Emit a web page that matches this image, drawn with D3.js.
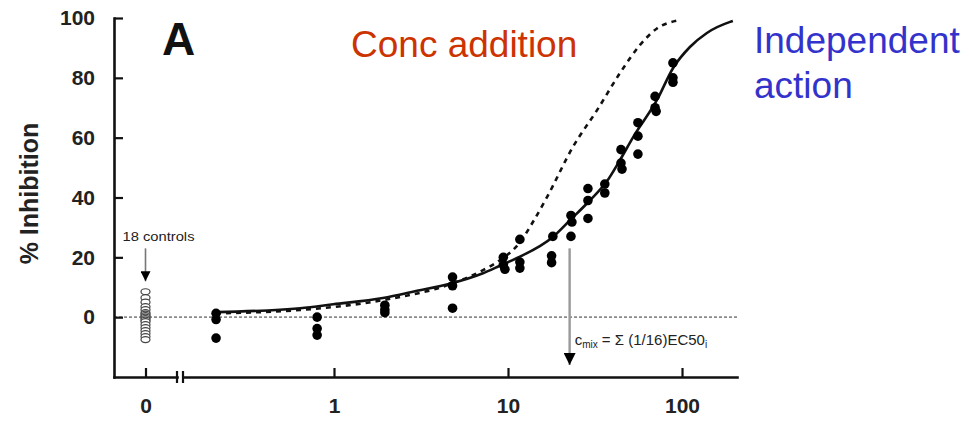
<!DOCTYPE html>
<html>
<head>
<meta charset="utf-8">
<script src="https://cdn.jsdelivr.net/npm/d3@7"></script>
<style>
  html, body { margin: 0; padding: 0; background: #fff; }
  svg { display: block; font-family: Arial, "Liberation Sans", sans-serif; }
</style>
</head>
<body>
<svg id="chart" width="969" height="421"></svg>
<script>
// ---------- data ----------
const yTickValues = [0, 20, 40, 60, 80, 100];
const xLogTickValues = [1, 10, 100];
const zeroCategory = ["0"];

// 18 controls (% inhibition, at concentration 0)
const controlValues = [8.5, 6.5, 5, 3.5, 2.5, 1.5, 1, 0.5, 0, -0.5, -1, -1.5, -2.5, -3.5, -4.5, -5.5, -6.5, -7.5];

// mixture observations: concentration and % inhibition
const obsConc = [0.21, 0.21, 0.21,
                 0.8, 0.8, 0.8,
                 1.96, 1.96, 1.96,
                 4.8, 4.8, 4.8,
                 9.4, 9.4, 9.6,
                 11.7, 11.7, 11.7,
                 18.1, 17.8, 17.8,
                 23, 23.3, 23,
                 28.8, 28.8, 28.8,
                 36, 36,
                 44.6, 44.6, 45.2,
                 55.8, 55.8, 55.8,
                 70, 70, 71,
                 88.7, 88.7, 88.7];
const obsInhib = [1.3, -0.8, -7,
                  0, -3.8, -6,
                  4, 2.5, 1.5,
                  13.4, 10.5, 3,
                  20, 17.5, 16,
                  26, 18.4, 16.4,
                  27, 20.5, 18.2,
                  34, 31.8, 27,
                  43, 39, 33,
                  44.5, 41.5,
                  56, 51.5, 49.5,
                  65, 60.5, 54.5,
                  73.8, 70, 68.8,
                  85, 80, 78.5];

// Independent action prediction (solid)
const iaConc = [0.21, 0.64, 0.99, 1.91, 3.0, 4.64, 7.18, 8.98, 11.2, 18.1, 22.7, 29.5, 37.1, 44, 52.4, 71.8, 88.9, 111, 139, 189, 196];
const iaInhib = [1.7, 3, 4.3, 6.4, 8.8, 11.2, 14.7, 17.2, 19.7, 26.8, 32.4, 39, 45.5, 52.5, 60.2, 72.6, 83.3, 90.3, 95, 98.7, 99];

// Concentration addition prediction (dashed)
const caConc = [0.21, 0.64, 1.91, 4.64, 7.18, 8.98, 11.7, 13.9, 16.75, 23.6, 32.5, 44, 57.4, 71.8, 94.8];
const caInhib = [1.3, 2.4, 5.7, 11, 15.7, 19, 25, 31.8, 40.1, 56.9, 69.2, 81.6, 91, 96.5, 99.2];

// annotations
const cmixConc = 22.6;
const cmixArrow = [23, -16];      // from / to (% inhibition)
const controlsArrow = [23, 12];   // from / to (% inhibition)

// ---------- layout ----------
const svg = d3.select("#chart");
const plotTop = 18, plotBottom = 377, plotLeft = 114, plotRight = 737;

const y = d3.scaleLinear().domain([-20, 100]).range([plotBottom, plotTop]);
const xZero = d3.scalePoint().domain(zeroCategory).range([plotLeft, 177]).padding(0.5);
const xLog = d3.scaleLog().domain([0.1356, 207]).range([183, plotRight]);

const fontFam = 'Arial, "Liberation Sans", sans-serif';

// arrow markers
const defs = svg.append("defs");
defs.append("marker").attr("id", "head").attr("viewBox", "0 0 10 10")
  .attr("refX", 10).attr("refY", 5).attr("markerUnits", "userSpaceOnUse")
  .attr("markerWidth", 12).attr("markerHeight", 12).attr("orient", "auto")
  .append("path").attr("d", "M0,0 L10,5 L0,10 Z").attr("fill", "#000");
defs.append("marker").attr("id", "headSmall").attr("viewBox", "0 0 10 10")
  .attr("refX", 10).attr("refY", 5).attr("markerUnits", "userSpaceOnUse")
  .attr("markerWidth", 11).attr("markerHeight", 10).attr("orient", "auto")
  .append("path").attr("d", "M0,0 L10,5 L0,10 Z").attr("fill", "#000");

// zero reference dotted line
svg.append("line")
  .attr("x1", plotLeft).attr("x2", plotRight)
  .attr("y1", y(0)).attr("y2", y(0))
  .attr("stroke", "#8a8a8a").attr("stroke-width", 1.6)
  .attr("stroke-dasharray", "3,2");

// ---------- axes ----------
function styleAxis(g) {
  g.selectAll(".domain").attr("stroke", "#111").attr("stroke-width", 2.6).attr("stroke-linecap", "square");
  g.selectAll(".tick line").attr("stroke", "#111").attr("stroke-width", 2.2);
  g.selectAll(".tick text").attr("fill", "#222").attr("font-size", 21)
    .attr("font-weight", "bold").attr("font-family", fontFam);
}

const yAxis = d3.axisLeft(y).tickValues(yTickValues).tickSizeInner(-9).tickSizeOuter(0).tickPadding(19);
svg.append("g").attr("transform", `translate(${plotLeft},0)`).call(yAxis).call(styleAxis);

const xAxisZero = d3.axisBottom(xZero).tickSizeInner(-9).tickSizeOuter(0).tickPadding(21);
svg.append("g").attr("transform", `translate(0,${plotBottom})`).call(xAxisZero).call(styleAxis);

const xAxisLog = d3.axisBottom(xLog).tickValues(xLogTickValues).tickFormat(d3.format("d"))
  .tickSizeInner(-9).tickSizeOuter(0).tickPadding(21);
svg.append("g").attr("transform", `translate(0,${plotBottom})`).call(xAxisLog).call(styleAxis);

// axis break marks
const breakXs = [xZero.range()[1], xLog.range()[0]];
svg.selectAll("line.brk").data(breakXs).join("line").attr("class", "brk")
  .attr("x1", d => d).attr("x2", d => d)
  .attr("y1", plotBottom - 6).attr("y2", plotBottom + 6)
  .attr("stroke", "#111").attr("stroke-width", 2.2);

// ---------- curves ----------
const line = d3.line().x(d => xLog(d[0])).y(d => y(d[1])).curve(d3.curveMonotoneX);

svg.append("path").datum(caConc.map((c, i) => [c, caInhib[i]]))
  .attr("d", line).attr("fill", "none").attr("stroke", "#111")
  .attr("stroke-width", 2.6).attr("stroke-dasharray", "5,5");

svg.append("path").datum(iaConc.map((c, i) => [c, iaInhib[i]]))
  .attr("d", line).attr("fill", "none").attr("stroke", "#111")
  .attr("stroke-width", 2.6);

// ---------- observations ----------
svg.selectAll("circle.obs").data(obsConc.map((c, i) => [c, obsInhib[i]])).join("circle")
  .attr("class", "obs")
  .attr("cx", d => xLog(d[0])).attr("cy", d => y(d[1])).attr("r", 4.8)
  .attr("fill", "#000");

// controls
svg.selectAll("ellipse.ctrl").data(controlValues).join("ellipse")
  .attr("class", "ctrl")
  .attr("cx", xZero("0")).attr("cy", d => y(d)).attr("rx", 4.5).attr("ry", 3)
  .attr("fill", "#fff").attr("stroke", "#444").attr("stroke-width", 1.2);

// ---------- annotations ----------
svg.append("line")
  .attr("x1", xZero("0")).attr("x2", xZero("0"))
  .attr("y1", y(controlsArrow[0])).attr("y2", y(controlsArrow[1]))
  .attr("stroke", "#777").attr("stroke-width", 1.6).attr("marker-end", "url(#headSmall)");

svg.append("text").attr("x", xZero("0") + 13).attr("y", y(controlsArrow[0]) - 7)
  .attr("text-anchor", "middle").attr("font-size", 12).attr("fill", "#222")
  .attr("font-family", fontFam).attr("textLength", 72).attr("lengthAdjust", "spacingAndGlyphs")
  .text("18 controls");

svg.append("line")
  .attr("x1", xLog(cmixConc)).attr("x2", xLog(cmixConc))
  .attr("y1", y(cmixArrow[0])).attr("y2", y(cmixArrow[1]))
  .attr("stroke", "#999").attr("stroke-width", 2.4).attr("marker-end", "url(#head)");

const cm = svg.append("text").attr("x", xLog(cmixConc) + 5).attr("y", y(-9.2))
  .attr("font-size", 15).attr("fill", "#222").attr("font-family", fontFam);
cm.append("tspan").text("c");
cm.append("tspan").attr("font-size", 10).attr("dy", 3).text("mix");
cm.append("tspan").attr("dy", -3).text(" = \u03A3 (1/16)EC50");
cm.append("tspan").attr("font-size", 10).attr("dy", 3).text("i");

// panel letter
svg.append("text").attr("x", 162).attr("y", 55)
  .attr("font-size", 46).attr("font-weight", "bold").attr("fill", "#111")
  .attr("font-family", fontFam).text("A");

// y axis title
svg.append("text")
  .attr("transform", `translate(38,${y(40) - 4}) rotate(-90)`)
  .attr("text-anchor", "middle").attr("font-size", 25).attr("font-weight", "bold")
  .attr("fill", "#222").attr("font-family", fontFam).text("% Inhibition");

// model labels
svg.append("text").attr("x", 351).attr("y", 57)
  .attr("font-size", 37).attr("fill", "#cc3300").attr("font-family", fontFam)
  .text("Conc addition");

const ia = svg.append("text").attr("x", 754).attr("y", 53)
  .attr("font-size", 37).attr("fill", "#3333cc").attr("font-family", fontFam);
ia.append("tspan").attr("x", 754).text("Independent");
ia.append("tspan").attr("x", 754).attr("dy", 45).text("action");
</script>
</body>
</html>
